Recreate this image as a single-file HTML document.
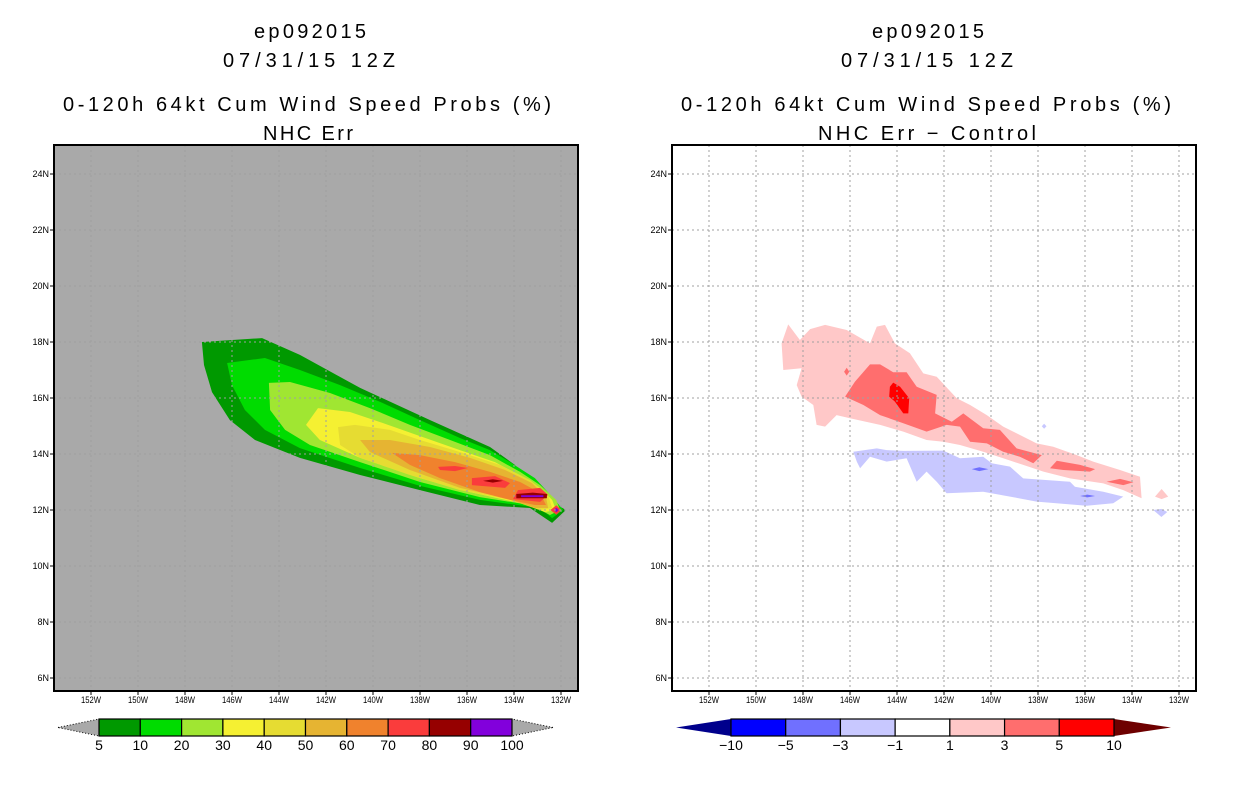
<!DOCTYPE html>
<html><head><meta charset="utf-8"><style>
html,body{margin:0;padding:0;background:#fff;}
svg{display:block;font-family:"Liberation Sans",sans-serif;}
</style></head><body>
<svg id="chart" width="1236" height="800" viewBox="0 0 1236 800">
<g id="titles">
<text x="310" y="38" text-anchor="middle" font-size="20" textLength="112">ep092015</text>
<text x="309" y="67" text-anchor="middle" font-size="20" textLength="172">07/31/15 12Z</text>
<text x="307" y="111" text-anchor="middle" font-size="20" textLength="488">0-120h 64kt Cum Wind Speed Probs (%)</text>
<text x="308" y="140" text-anchor="middle" font-size="20" textLength="90">NHC Err</text>
<text x="928" y="38" text-anchor="middle" font-size="20" textLength="112">ep092015</text>
<text x="927" y="67" text-anchor="middle" font-size="20" textLength="172">07/31/15 12Z</text>
<text x="926" y="111" text-anchor="middle" font-size="20" textLength="490">0-120h 64kt Cum Wind Speed Probs (%)</text>
<text x="927" y="140" text-anchor="middle" font-size="20" textLength="218">NHC Err − Control</text>
</g>
</svg>
<script>
// ---- data ----
const lonTicks = [-152,-150,-148,-146,-144,-142,-140,-138,-136,-134,-132];
const lonTickLabels = ["152W","150W","148W","146W","144W","142W","140W","138W","136W","134W","132W"];
const latTicks = [6,8,10,12,14,16,18,20,22,24];
const latTickLabels = ["6N","8N","10N","12N","14N","16N","18N","20N","22N","24N"];

const probLevels = ["5","10","20","30","40","50","60","70","80","90","100"];
const probColors = ["#009900","#00dc00","#a0e632","#f5f032","#e6dc32","#e6b432","#f0822d","#fa3c3c","#960000","#8200dc"];
const diffLevels = ["−10","−5","−3","−1","1","3","5","10"];
const diffColors = ["#00008c","#0000ff","#7070ff","#c8c8ff","#ffffff","#ffc8c8","#ff6e6e","#ff0000","#6e0000"];

// left panel contours: [level index, lon list, lat list]
const p5lon=[-147.28,-144.72,-143.11,-140.55,-137.57,-135.02,-133.96,-133.66,-133.32,-132.55,-131.79,-132.38,-133.32,-135.45,-138.0,-140.55,-143.11,-145.02,-146.09,-146.85,-147.19];
const p5lat=[18.0,18.14,17.54,16.36,15.21,14.25,13.61,13.14,12.71,12.36,12.0,11.54,12.07,12.18,12.71,13.25,13.86,14.5,15.21,16.21,17.18];
const p10lon=[-146.21,-144.6,-143.11,-141.4,-139.7,-138.0,-136.3,-135.02,-134.17,-133.11,-132.26,-131.91,-132.38,-132.89,-135.45,-138.0,-140.55,-143.11,-144.6,-145.45,-146.0];
const p10lat=[17.25,17.43,17.0,16.46,15.86,15.21,14.57,14.14,13.71,13.14,12.36,12.0,11.71,12.07,12.36,12.86,13.5,14.21,14.86,15.57,16.46];
const p20lon=[-144.43,-143.53,-141.83,-140.13,-138.43,-136.72,-135.02,-133.74,-132.89,-132.21,-132.04,-132.47,-133.32,-135.45,-138.0,-140.55,-142.68,-143.74,-144.38];
const p20lat=[16.54,16.57,16.18,15.64,15.04,14.5,13.96,13.36,12.89,12.36,12.0,11.82,12.18,12.46,13.0,13.71,14.32,14.86,15.57];
const p30lon=[-142.34,-140.98,-139.7,-138.0,-136.3,-134.81,-133.53,-132.89,-132.38,-132.21,-132.68,-133.74,-135.87,-138.0,-140.55,-142.26,-142.85];
const p30lat=[15.64,15.5,15.14,14.64,14.14,13.71,13.14,12.79,12.36,12.0,11.93,12.25,12.64,13.14,13.86,14.5,15.04];
const p40lon=[-141.49,-140.77,-139.28,-138.0,-136.3,-134.6,-133.32,-132.55,-132.38,-132.89,-134.17,-136.3,-138.43,-140.55,-141.4];
const p40lat=[14.96,15.04,14.86,14.5,14.07,13.61,13.07,12.54,12.07,12.0,12.36,12.71,13.25,13.86,14.32];
const p50lon=[-140.55,-139.28,-137.57,-135.87,-134.38,-133.23,-132.64,-132.55,-133.11,-134.38,-136.3,-138.43,-140.13];
const p50lat=[14.5,14.5,14.25,13.86,13.43,12.96,12.46,12.07,12.07,12.43,12.79,13.43,14.07];
const p60lon=[-139.19,-138.0,-136.51,-135.02,-133.74,-132.89,-132.64,-133.11,-134.17,-135.45,-137.15,-138.43];
const p60lat=[14.04,13.96,13.71,13.36,13.0,12.61,12.18,12.18,12.36,12.64,13.14,13.61];
const p70aLon=[-137.23,-136.51,-135.96,-136.51,-137.15], p70aLat=[13.54,13.57,13.5,13.39,13.43];
const p70bLon=[-135.79,-134.81,-134.17,-134.38,-135.79], p70bLat=[13.14,13.21,12.96,12.79,12.89];
const p70cLon=[-133.83,-132.89,-132.55,-132.89,-134.04], p70cLat=[12.71,12.79,12.54,12.29,12.39];
const p70dLon=[-132.45,-132.2,-131.98,-132.2], p70dLat=[12.0,12.17,12.0,11.83];
const p80aLon=[-135.32,-134.9,-134.47,-134.9], p80aLat=[13.04,13.1,13.04,12.98];
const p80bLon=[-133.9,-133.2,-132.6,-132.6,-133.9], p80bLat=[12.57,12.62,12.57,12.42,12.42];
const p90aLon=[-133.7,-132.75,-132.75,-133.7], p90aLat=[12.53,12.53,12.46,12.46];
const p90bLon=[-132.3,-132.2,-132.1,-132.2], p90bLat=[12.0,12.08,12.0,11.92];

// right panel difference contours
const d1Lon=[-148.63,-148.13,-147.70,-147.06,-146.14,-145.15,-144.86,-144.51,-144.09,-143.45,-142.88,-142.31,-141.46,-140.89,-140.18,-139.48,-138.63,-138.06,-137.35,-136.35,-135.65,-134.51,-133.66,-133.59,-134.37,-135.22,-136.64,-137.77,-138.63,-139.48,-140.33,-141.32,-142.03,-142.74,-143.73,-144.72,-146.0,-146.57,-147.06,-147.42,-147.56,-148.06,-148.27,-148.06,-148.84,-148.91];
const d1Lat=[18.63,18.07,18.46,18.61,18.43,17.95,18.55,18.61,17.95,17.6,16.88,16.76,15.99,15.75,15.39,14.98,14.62,14.38,14.26,13.96,13.73,13.43,13.19,12.42,12.71,12.95,13.13,13.37,13.61,13.85,14.08,14.32,14.44,14.5,14.8,15.04,15.28,15.39,14.98,15.04,15.75,16.05,16.46,17.06,17.0,17.95];
const d1bLon=[-133.02,-132.74,-132.46,-132.74], d1bLat=[12.48,12.75,12.48,12.39];
const d3Lon=[-146.21,-145.79,-145.15,-144.72,-144.16,-143.59,-143.16,-142.31,-142.38,-141.67,-141.18,-140.33,-139.62,-138.91,-137.84,-138.2,-138.77,-139.48,-140.18,-140.89,-141.32,-141.89,-142.74,-143.73,-144.72,-145.43];
const d3Lat=[16.05,16.58,17.2,17.2,16.92,16.92,16.4,16.11,15.45,15.15,15.45,14.92,14.86,14.2,13.96,13.67,13.9,14.08,14.38,14.44,14.98,15.04,14.8,15.1,15.39,15.75];
const d3bLon=[-137.49,-137.2,-136.21,-135.57,-135.79,-136.92], d3bLat=[13.49,13.76,13.61,13.46,13.37,13.43];
const d3cLon=[-135.08,-134.51,-133.94,-134.37], d3cLat=[13.01,13.11,12.99,12.89];
const d3dLon=[-146.25,-146.14,-146.03,-146.14], d3dLat=[16.94,17.08,16.94,16.8];
const d5Lon=[-144.3,-144.16,-143.87,-143.48,-143.52,-143.73,-144.09,-144.33];
const d5Lat=[16.4,16.55,16.4,15.99,15.45,15.45,15.87,16.05];
const dn1Lon=[-145.86,-144.86,-144.44,-143.73,-142.03,-141.32,-140.33,-139.97,-139.19,-138.63,-136.64,-136.43,-135.22,-134.37,-134.8,-135.93,-138.06,-139.19,-140.33,-141.89,-142.31,-142.74,-143.16,-143.59,-144.44,-145.15,-145.57,-145.71];
const dn1Lat=[14.08,14.2,14.14,14.11,14.12,13.85,13.9,13.67,13.55,13.13,13.01,12.83,12.65,12.48,12.24,12.15,12.3,12.48,12.65,12.6,13.01,13.37,13.01,13.85,13.73,13.9,13.49,13.73];
const dn1bLon=[-133.1,-132.75,-132.5,-132.75], dn1bLat=[12.0,12.04,11.93,11.75];
const dn1cLon=[-137.84,-137.74,-137.64,-137.74], dn1cLat=[14.99,15.08,14.99,14.9];
const dn3aLon=[-140.82,-140.5,-140.11,-140.5], dn3aLat=[13.46,13.53,13.46,13.39];
const dn3bLon=[-136.21,-135.9,-135.57,-135.9], dn3bLat=[12.5,12.55,12.5,12.45];

// ---- drawing ----
const NS='http://www.w3.org/2000/svg';
const svg=document.getElementById('chart');
function el(tag,attrs,parent){const e=document.createElementNS(NS,tag);for(const k in attrs)e.setAttribute(k,attrs[k]);(parent||svg).appendChild(e);return e;}
const PW=524, PH=546, PY=145;
function xScale(lon,x0){return x0+37+(lon+152)*23.5;}
function yScale(lat){return 678-(lat-6)*28;}

function panel(x0,bg,name){
  const g=el('g',{});
  
  
  const r=el('rect',{x:x0,y:PY,width:PW,height:PH,fill:bg},g);
  
  
  const clip=el('clipPath',{id:name+'-clip'},g);
  el('rect',{x:x0,y:PY,width:PW,height:PH},clip);
  const fills=el('g',{'clip-path':'url(#'+name+'-clip)'},g);
  return {g,fills,x0};
}
function poly(p,lons,lats,color,nm){
  const pts=lons.map((lo,i)=>xScale(lo,p.x0).toFixed(1)+','+yScale(lats[i]).toFixed(1)).join(' ');
  const e=el('polygon',{points:pts,fill:color},p.fills);
  
  
}
function axes(p,gridColor,name){
  const x0=p.x0;
  lonTicks.forEach((lo,i)=>{
    const x=xScale(lo,x0);
    const gl=el('line',{x1:x,x2:x,y1:PY,y2:PY+PH,stroke:gridColor,'stroke-width':1,'stroke-dasharray':'2,3'},p.g);
    
    
    el('line',{x1:x,x2:x,y1:PY+PH,y2:PY+PH+4,stroke:'#000'},p.g);
    const t=el('text',{x:x,y:PY+PH+12,'text-anchor':'middle','font-size':9,textLength:20,lengthAdjust:'spacingAndGlyphs'},p.g);
    t.textContent=lonTickLabels[i];
    
    
  });
  latTicks.forEach((la,i)=>{
    const y=yScale(la);
    const gl=el('line',{x1:x0,x2:x0+PW,y1:y,y2:y,stroke:gridColor,'stroke-width':1,'stroke-dasharray':'2,3'},p.g);
    
    
    el('line',{x1:x0-4,x2:x0,y1:y,y2:y,stroke:'#000'},p.g);
    const t=el('text',{x:x0-5,y:y+3,'text-anchor':'end','font-size':9},p.g);
    t.textContent=latTickLabels[i];
    
    
  });
  const f=el('rect',{x:x0,y:PY,width:PW,height:PH,fill:'none',stroke:'#000','stroke-width':2},p.g);
  
  
}
function colorbar(x1,x2,tipL,tipR,colors,labels,name,interior){
  const g=el('g',{});
  
  
  const y1=719,y2=736,ym=727.5;
  const n=interior.length;
  const w=(x2-x1)/n;
  const l=el('polygon',{points:`${tipL},${ym} ${x1},${y1} ${x1},${y2}`,fill:colors.left,stroke:colors.leftStroke,'stroke-dasharray':colors.dash},g);
  
  
  const r=el('polygon',{points:`${tipR},${ym} ${x2},${y1} ${x2},${y2}`,fill:colors.right,stroke:colors.rightStroke,'stroke-dasharray':colors.dash},g);
  
  
  interior.forEach((c,i)=>{
    const b=el('rect',{x:x1+i*w,y:y1,width:w,height:y2-y1,fill:c,stroke:'#000','stroke-width':1.2},g);
    
    
  });
  labels.forEach((s,i)=>{
    const t=el('text',{x:x1+i*w,y:750,'text-anchor':'middle','font-size':14},g);
    t.textContent=s;
    
    
  });
}

// left panel
const L=panel(54,'#a9a9a9','left-map-panel');
poly(L,p5lon,p5lat,probColors[0],'prob-5');
poly(L,p10lon,p10lat,probColors[1],'prob-10');
poly(L,p20lon,p20lat,probColors[2],'prob-20');
poly(L,p30lon,p30lat,probColors[3],'prob-30');
poly(L,p40lon,p40lat,probColors[4],'prob-40');
poly(L,p50lon,p50lat,probColors[5],'prob-50');
poly(L,p60lon,p60lat,probColors[6],'prob-60');
poly(L,p70aLon,p70aLat,probColors[7],'prob-70a');
poly(L,p70bLon,p70bLat,probColors[7],'prob-70b');
poly(L,p70cLon,p70cLat,probColors[7],'prob-70c');
poly(L,p70dLon,p70dLat,probColors[7],'prob-70d');
poly(L,p80aLon,p80aLat,probColors[8],'prob-80a');
poly(L,p80bLon,p80bLat,probColors[8],'prob-80b');
poly(L,p90aLon,p90aLat,probColors[9],'prob-90a');
poly(L,p90bLon,p90bLat,probColors[9],'prob-90b');
axes(L,'#a0a0a0','left-map');

// right panel
const R=panel(672,'#ffffff','right-map-panel');
poly(R,d1Lon,d1Lat,diffColors[5],'diff-pos-1');
poly(R,d1bLon,d1bLat,diffColors[5],'diff-pos-1b');
poly(R,d3Lon,d3Lat,diffColors[6],'diff-pos-3');
poly(R,d3bLon,d3bLat,diffColors[6],'diff-pos-3b');
poly(R,d3cLon,d3cLat,diffColors[6],'diff-pos-3c');
poly(R,d3dLon,d3dLat,diffColors[6],'diff-pos-3d');
poly(R,d5Lon,d5Lat,diffColors[7],'diff-pos-5');
poly(R,dn1Lon,dn1Lat,diffColors[3],'diff-neg-1');
poly(R,dn1bLon,dn1bLat,diffColors[3],'diff-neg-1b');
poly(R,dn1cLon,dn1cLat,diffColors[3],'diff-neg-1c');
poly(R,dn3aLon,dn3aLat,diffColors[2],'diff-neg-3a');
poly(R,dn3bLon,dn3bLat,diffColors[2],'diff-neg-3b');
axes(R,'#a0a0a0','right-map');

// colorbars
colorbar(99,512,58,553,{left:'#a9a9a9',right:'#a9a9a9',leftStroke:'#000',rightStroke:'#000',dash:'1,2'},probLevels,'prob-colorbar',probColors);
colorbar(731,1114,676,1171,{left:diffColors[0],right:diffColors[8],leftStroke:'none',rightStroke:'none',dash:'none'},diffLevels,'diff-colorbar',diffColors.slice(1,8));
</script>
</body></html>
